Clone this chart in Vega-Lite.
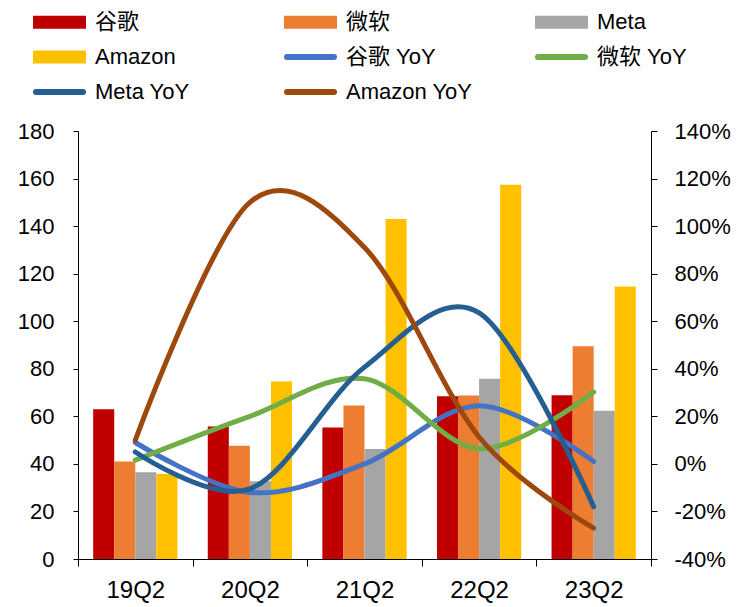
{
  "$schema": "https://vega.github.io/schema/vega-lite/v6.json",
  "width": 573,
  "height": 428,
  "autosize": {"type": "none"},
  "padding": {"left": 78, "top": 131, "right": 97, "bottom": 48},
  "background": "white",
  "config": {
    "font": "Liberation Sans, Noto Sans CJK SC",
    "view": {"stroke": null},
    "axis": {"domainColor": "#000000", "tickColor": "#000000", "labelColor": "#000000", "grid": false, "title": null, "labelFont": "Liberation Sans"}
  },
  "datasets": {
    "bars": [
      {"q": "19Q2", "s": "谷歌", "v": 63.0},
      {"q": "19Q2", "s": "微软", "v": 41.0},
      {"q": "19Q2", "s": "Meta", "v": 36.5},
      {"q": "19Q2", "s": "Amazon", "v": 35.8},
      {"q": "20Q2", "s": "谷歌", "v": 55.7},
      {"q": "20Q2", "s": "微软", "v": 47.6},
      {"q": "20Q2", "s": "Meta", "v": 32.7},
      {"q": "20Q2", "s": "Amazon", "v": 74.7},
      {"q": "21Q2", "s": "谷歌", "v": 55.3},
      {"q": "21Q2", "s": "微软", "v": 64.6},
      {"q": "21Q2", "s": "Meta", "v": 46.3},
      {"q": "21Q2", "s": "Amazon", "v": 143.0},
      {"q": "22Q2", "s": "谷歌", "v": 68.4},
      {"q": "22Q2", "s": "微软", "v": 68.8},
      {"q": "22Q2", "s": "Meta", "v": 75.8},
      {"q": "22Q2", "s": "Amazon", "v": 157.4},
      {"q": "23Q2", "s": "谷歌", "v": 68.9},
      {"q": "23Q2", "s": "微软", "v": 89.5},
      {"q": "23Q2", "s": "Meta", "v": 62.4},
      {"q": "23Q2", "s": "Amazon", "v": 114.6}
    ],
    "yoy": [
      {"q": "19Q2", "s": "谷歌 YoY", "v": 0.09},
      {"q": "20Q2", "s": "谷歌 YoY", "v": -0.12},
      {"q": "21Q2", "s": "谷歌 YoY", "v": 0.0},
      {"q": "22Q2", "s": "谷歌 YoY", "v": 0.245},
      {"q": "23Q2", "s": "谷歌 YoY", "v": 0.01},
      {"q": "19Q2", "s": "微软 YoY", "v": 0.016},
      {"q": "20Q2", "s": "微软 YoY", "v": 0.20},
      {"q": "21Q2", "s": "微软 YoY", "v": 0.358},
      {"q": "22Q2", "s": "微软 YoY", "v": 0.064},
      {"q": "23Q2", "s": "微软 YoY", "v": 0.302},
      {"q": "19Q2", "s": "Meta YoY", "v": 0.05},
      {"q": "20Q2", "s": "Meta YoY", "v": -0.105},
      {"q": "21Q2", "s": "Meta YoY", "v": 0.407},
      {"q": "22Q2", "s": "Meta YoY", "v": 0.635},
      {"q": "23Q2", "s": "Meta YoY", "v": -0.18},
      {"q": "19Q2", "s": "Amazon YoY", "v": 0.10},
      {"q": "20Q2", "s": "Amazon YoY", "v": 1.10},
      {"q": "21Q2", "s": "Amazon YoY", "v": 0.91},
      {"q": "22Q2", "s": "Amazon YoY", "v": 0.113},
      {"q": "23Q2", "s": "Amazon YoY", "v": -0.27}
    ]
  },
  "layer": [
    {
      "data": {"name": "bars"},
      "mark": {"type": "bar"},
      "encoding": {
        "x": {
          "field": "q", "type": "nominal", "sort": null,
          "scale": {"paddingInner": 0, "paddingOuter": 0},
          "axis": {"tickBand": "extent", "labelAngle": 0, "labelFontSize": 24, "tickSize": 7, "labelPadding": 12}
        },
        "xOffset": {
          "field": "s", "type": "nominal",
          "scale": {"domain": ["谷歌", "微软", "Meta", "Amazon"], "paddingInner": 0, "paddingOuter": 0.72}
        },
        "y": {
          "field": "v", "type": "quantitative",
          "scale": {"domain": [0, 180], "nice": false},
          "axis": {"values": [0, 20, 40, 60, 80, 100, 120, 140, 160, 180], "labelFontSize": 22, "tickSize": 5, "labelPadding": 19}
        },
        "color": {
          "field": "s", "type": "nominal",
          "scale": {
            "domain": ["谷歌", "微软", "Meta", "Amazon", "谷歌 YoY", "微软 YoY", "Meta YoY", "Amazon YoY"],
            "range": ["#C00000", "#ED7D31", "#A5A5A5", "#FFC000", "#4472C4", "#70AD47", "#255E91", "#9E480E"]
          },
          "legend": {
            "title": null,
            "orient": "none",
            "legendX": -48,
            "legendY": -123,
            "direction": "horizontal",
            "columns": 3,
            "gridAlign": "all",
            "columnPadding": 53,
            "rowPadding": 3,
            "symbolSize": 484,
            "symbolOffset": 31,
            "labelOffset": 6,
            "symbolStrokeWidth": 6,
            "symbolType": "M-3.545,-0.318H0.727V0.318H-3.545Z",
            "labelFontSize": 22,
            "labelColor": "#000000",
            "labelFont": "Liberation Sans, Noto Sans CJK SC",
            "encode": {
              "symbols": {
                "update": {
                  "shape": {"signal": "indexof(datum.value, 'YoY') >= 0 ? 'M-3.545,0H0.727' : 'M-3.545,-0.318H0.727V0.318H-3.545Z'"},
                  "stroke": {"scale": "color", "field": "value"},
                  "strokeCap": {"value": "round"}
                }
              }
            }
          }
        }
      }
    },
    {
      "data": {"name": "yoy"},
      "mark": {"type": "line", "interpolate": "cardinal", "strokeWidth": 5, "strokeCap": "round"},
      "encoding": {
        "x": {"field": "q", "type": "nominal", "sort": null},
        "y": {
          "field": "v", "type": "quantitative",
          "scale": {"domain": [-0.4, 1.4], "nice": false},
          "axis": {"orient": "right", "values": [-0.4, -0.2, 0, 0.2, 0.4, 0.6, 0.8, 1.0, 1.2, 1.4], "format": ".0%", "labelExpr": "replace(datum.label, '−', '-')", "labelFontSize": 22, "tickSize": 6, "labelPadding": 17}
        },
        "color": {"field": "s", "type": "nominal"}
      }
    }
  ],
  "resolve": {"scale": {"y": "independent"}}
}
